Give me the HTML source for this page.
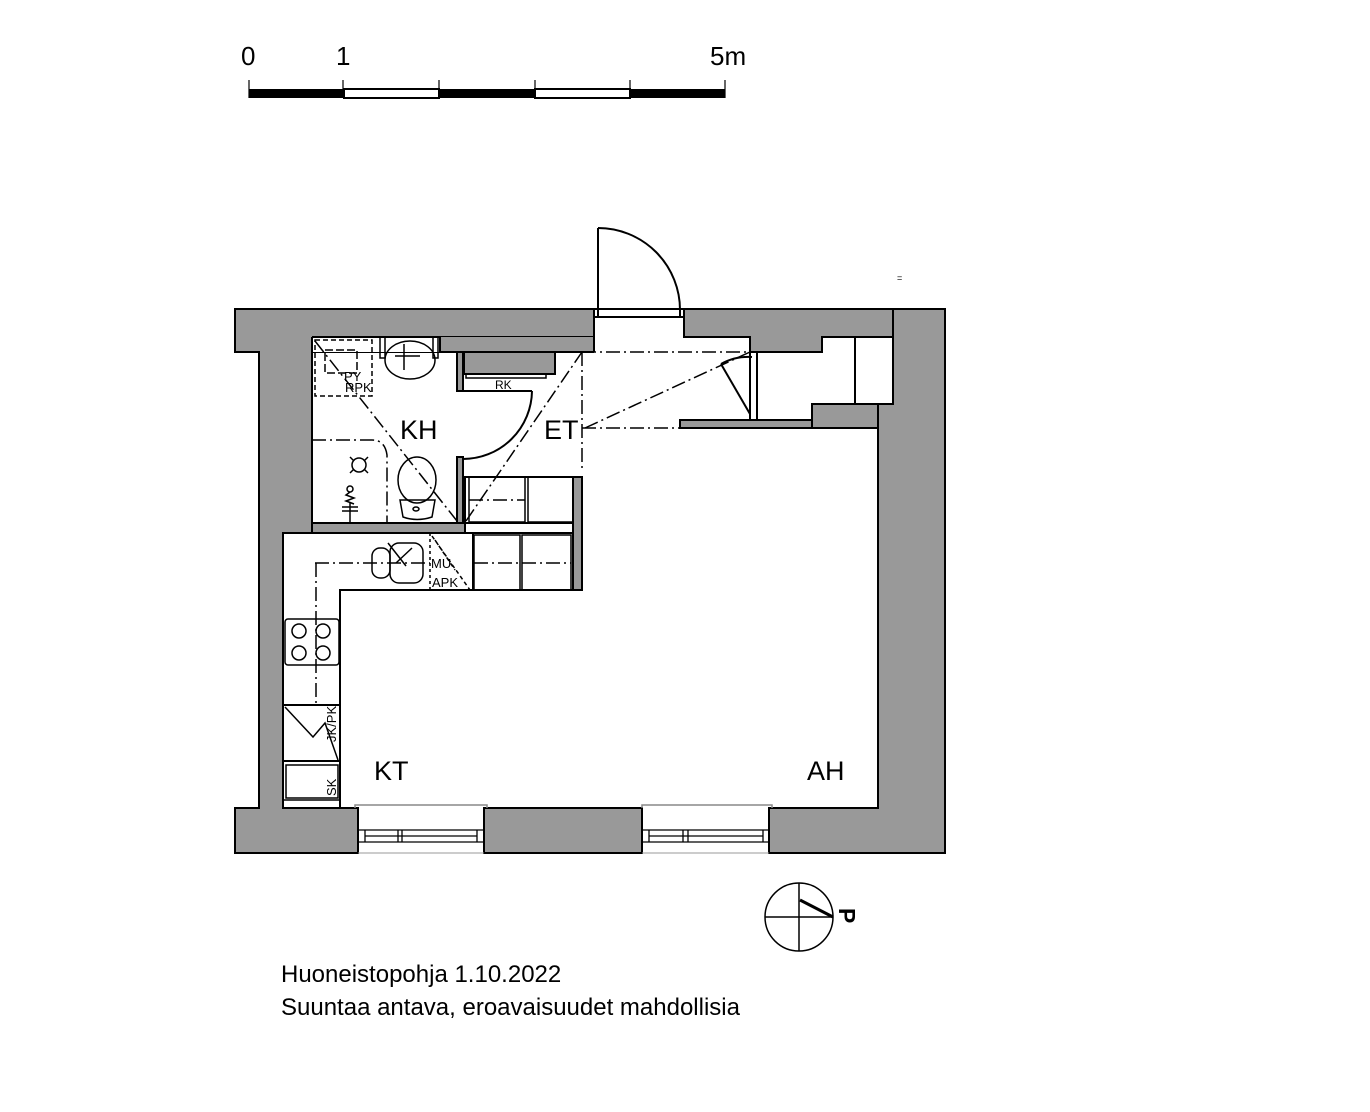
<!DOCTYPE html>
<html><head><meta charset="utf-8"><style>
html,body{margin:0;padding:0;background:#fff;}
svg{display:block;}
text{font-family:"Liberation Sans",Arial,sans-serif;fill:#000;}
</style></head><body>
<svg width="1370" height="1112" viewBox="0 0 1370 1112" xmlns="http://www.w3.org/2000/svg">
<g>
<rect x="249" y="89" width="95" height="9" fill="#000"/>
<rect x="344" y="89" width="95" height="9" fill="#fff" stroke="#000" stroke-width="2"/>
<rect x="439" y="89" width="96" height="9" fill="#000"/>
<rect x="535" y="89" width="95" height="9" fill="#fff" stroke="#000" stroke-width="2"/>
<rect x="630" y="89" width="95" height="9" fill="#000"/>
<g stroke="#000" stroke-width="1.2">
<line x1="249" y1="80" x2="249" y2="98"/><line x1="343" y1="80" x2="343" y2="98"/>
<line x1="439" y1="80" x2="439" y2="98"/><line x1="535" y1="80" x2="535" y2="98"/>
<line x1="630" y1="80" x2="630" y2="98"/><line x1="725" y1="80" x2="725" y2="98"/>
</g>
<text x="241" y="65" font-size="26">0</text>
<text x="336" y="65" font-size="26">1</text>
<text x="710" y="65" font-size="26">5m</text>
</g>
<text x="897" y="281" font-size="9">=</text>

<g fill="#999" stroke="#000" stroke-width="2">
<path d="M235,309 H594 V317 H594 V337 H440 V352 H312 V533 H283 V808 H358 V853 H235 V808 H259 V352 H235 Z"/>
<path d="M440,337 H594 V352 H440 Z" stroke="none"/>
<path d="M684,309 H893 V337 H822 V352 H750 V337 H684 Z"/>
<path d="M893,309 H945 V853 H769 V808 H878 V404 H893 Z"/>
<rect x="484" y="808" width="158" height="45"/>
<rect x="812" y="404" width="66" height="24"/>
<rect x="680" y="420" width="132" height="8"/>
<rect x="464" y="352" width="91" height="22"/>
<rect x="312" y="523" width="153" height="10"/>
<rect x="457" y="352" width="6" height="39"/>
<rect x="457" y="457" width="6" height="66"/>
<rect x="573" y="477" width="9" height="113"/>
</g>
<line x1="440" y1="352" x2="594" y2="352" stroke="#000" stroke-width="2"/>
<line x1="594" y1="317" x2="594" y2="352" stroke="#000" stroke-width="2"/>
<rect x="312" y="337" width="128" height="15" fill="#fff"/>
<line x1="312" y1="337" x2="440" y2="337" stroke="#000" stroke-width="2"/>
<line x1="440" y1="337" x2="440" y2="352" stroke="#000" stroke-width="2"/>
<line x1="312" y1="337" x2="312" y2="352" stroke="#000" stroke-width="2"/>
<rect x="855" y="337" width="38" height="67" fill="#fff" stroke="#000" stroke-width="2"/>
<line x1="893" y1="337" x2="893" y2="404" stroke="#000" stroke-width="2"/>

<g fill="none" stroke="#000" stroke-width="2">
<rect x="594" y="309" width="90" height="8"/>
<line x1="598" y1="228" x2="598" y2="317"/>
<line x1="680" y1="309" x2="680" y2="317"/>
<path d="M598,228 A82,82 0 0 1 680,310"/>
<rect x="750" y="352" width="7" height="68"/>
<line x1="721" y1="364" x2="750" y2="414"/>
<path d="M721,364 Q735,356 752,357"/>
<line x1="457" y1="391" x2="532" y2="391"/>
<path d="M532,391 A69,69 0 0 1 463,459"/>
<rect x="466" y="374" width="80" height="4" stroke-width="1.5"/>
</g>

<g fill="none" stroke="#000" stroke-width="1.5">
<rect x="315" y="340" width="57" height="56" stroke-dasharray="5,3"/>
<rect x="325" y="350" width="32" height="23" stroke-dasharray="8,3"/>
<path d="M380,337 V358 H385 V337 M433,337 V358 H438 V337"/>
<ellipse cx="410" cy="360" rx="25" ry="19"/>
<line x1="404" y1="344" x2="404" y2="370"/><line x1="395" y1="356" x2="420" y2="356"/>
<ellipse cx="417" cy="480" rx="19" ry="23"/>
<path d="M400,500 H435 L432,517 Q417,522 403,517 Z"/>
<ellipse cx="416" cy="509" rx="3" ry="2"/>
<circle cx="359" cy="465" r="7"/>
<path d="M350,457 l4,4 M368,457 l-4,4 M350,473 l4,-4 M368,473 l-4,-4"/>
<circle cx="350" cy="489" r="3"/>
<path d="M350,492 l-4,3 l8,3 l-8,3 l8,3"/>
<line x1="350" y1="503" x2="350" y2="523"/>
<line x1="342" y1="507" x2="358" y2="507"/><line x1="342" y1="511" x2="358" y2="511"/>
</g>
<text x="344" y="381" font-size="13">PY</text>
<text x="345" y="392" font-size="13">RPK</text>
<text x="495" y="389" font-size="12">RK</text>
<g fill="none" stroke="#000" stroke-width="1.5">
<rect x="465" y="477" width="108" height="46" stroke-width="2"/>
<rect x="469" y="477" width="56" height="45"/><rect x="528" y="477" width="45" height="45"/>
</g>

<g fill="none" stroke="#000" stroke-width="2">
<path d="M283,533 H573 V590 H340 V808 H283 Z"/>
<rect x="474" y="535" width="46" height="55" stroke-width="1.5"/>
<rect x="522" y="535" width="49" height="55" stroke-width="1.5"/>
<line x1="473" y1="533" x2="473" y2="590"/>
<rect x="285" y="619" width="54" height="46" rx="3" stroke-width="1.5"/>
<g stroke-width="1.5"><circle cx="299" cy="631" r="7"/><circle cx="323" cy="631" r="7"/><circle cx="299" cy="653" r="7"/><circle cx="323" cy="653" r="7"/></g>
<line x1="283" y1="705" x2="340" y2="705"/>
<line x1="283" y1="761" x2="340" y2="761"/>
<path d="M285,707 L313,737 L325,723 L338,760" stroke-width="1.5"/>
<rect x="286" y="765" width="52" height="33" stroke-width="1.5"/>
<line x1="283" y1="800" x2="340" y2="800" stroke-width="1.5"/>
<rect x="372" y="548" width="18" height="30" rx="8" stroke-width="1.5"/>
<rect x="390" y="543" width="33" height="40" rx="9" stroke-width="1.5"/>
<path d="M388,543 L406,566 M396,563 L412,548" stroke-width="1.5"/>
<line x1="430" y1="533" x2="430" y2="590" stroke-width="1.5" stroke-dasharray="3,3"/>
<path d="M432,536 L470,590 M435,540 L455,570" stroke-width="1.5" stroke-dasharray="4,3"/>
</g>
<text x="431" y="568" font-size="13">MU</text>
<text x="432" y="587" font-size="13">APK</text>
<text transform="translate(336,742) rotate(-90)" font-size="13">JK/PK</text>
<text transform="translate(336,796) rotate(-90)" font-size="13">SK</text>

<g fill="none">
<path d="M355,808 V805 H487 V808" stroke="#888" stroke-width="1.5"/>
<path d="M642,808 V805 H772 V808" stroke="#888" stroke-width="1.5"/>
<g stroke="#000" stroke-width="1.3">
<path d="M358,830 H484 M365,836 H477 M358,842 H484 M365,830 V842 M398,830 V842 M402,830 V842 M477,830 V842"/>
<path d="M642,830 H769 M649,836 H763 M642,842 H769 M649,830 V842 M683,830 V842 M688,830 V842 M763,830 V842"/>
</g>
<path d="M358,853 H484 M642,853 H769" stroke="#999" stroke-width="1"/>
</g>

<g fill="none" stroke="#000" stroke-width="1.5" stroke-dasharray="14,4,2,4">
<path d="M315,341 L457,521"/>
<path d="M312,440 H372 Q385,440 387,455 V523"/>
<path d="M466,521 L582,352"/>
<path d="M582,352 H750"/>
<path d="M582,352 V470"/>
<path d="M582,428 H680"/>
<path d="M585,428 L750,352"/>
<path d="M315,563 H430"/>
<path d="M316,563 V705"/>
<path d="M474,563 H571"/>
<path d="M469,500 H525"/>
</g>

<text x="400" y="439" font-size="27">KH</text>
<text x="544" y="439" font-size="27">ET</text>
<text x="374" y="780" font-size="27">KT</text>
<text x="807" y="780" font-size="27">AH</text>

<g fill="none" stroke="#000" stroke-width="1.5">
<circle cx="799" cy="917" r="34"/>
<line x1="765" y1="917" x2="833" y2="917"/>
<line x1="799" y1="883" x2="799" y2="951"/>
<line x1="800" y1="900" x2="833" y2="917" stroke-width="3"/>
</g>
<text transform="translate(839,908) rotate(90)" font-size="23" font-weight="bold">P</text>

<text x="281" y="982" font-size="24">Huoneistopohja 1.10.2022</text>
<text x="281" y="1015" font-size="24">Suuntaa antava, eroavaisuudet mahdollisia</text>
</svg>
</body></html>
